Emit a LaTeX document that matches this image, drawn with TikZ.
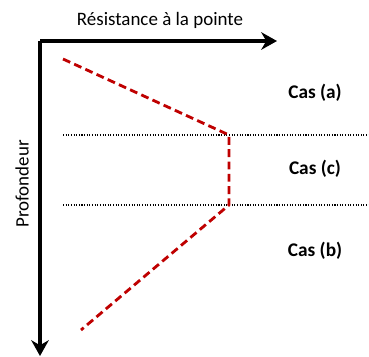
\documentclass[tikz,border=0pt]{standalone}
\usepackage{fontspec}
\setmainfont{Carlito}
\usetikzlibrary{arrows.meta}
\begin{document}
\begin{tikzpicture}[x=0.02cm, y=-0.02cm, >=stealth]

    \tikzset{
        axis/.style={->, line width=1.8pt, >={Stealth[length=9pt, width=10pt]}},
        profile/.style={red!75!black, line width=1.6pt, dashed, dash pattern=on 4.5pt off 2.5pt},
        limit/.style={dotted, line width=0.6pt, dash pattern=on 0.6pt off 0.9pt},
        axislabel/.style={font=\fontsize{10.8}{13}\selectfont},
        caselabel/.style={font=\fontsize{11}{13}\selectfont\bfseries}
    }

    \useasboundingbox (0,0) rectangle (369,356);

    % Axes
    \coordinate (origin) at (40,41);
    \coordinate (xend) at (277,41);
    \coordinate (yend) at (40,356);
    \draw[axis] (origin) -- (xend);
    \draw[axis] (origin) -- (yend);
    \node[axislabel] (xlabel) at (160,20) {Résistance à la pointe};
    \node[axislabel, rotate=90] (ylabel) at (22,184) {Profondeur};

    % Layer limits
    \coordinate (l1a) at (63,135);
    \coordinate (l1b) at (369,135);
    \coordinate (l2a) at (63,205);
    \coordinate (l2b) at (369,205);
    \draw[limit] (l1a) -- (l1b);
    \draw[limit] (l2a) -- (l2b);

    % Resistance profile
    \coordinate (p1) at (63,59);
    \coordinate (p2) at (229,135);
    \coordinate (p3) at (229,205);
    \coordinate (p4) at (81,330);
    \draw[profile, line join=round] (p1) -- (p2) -- (p3) -- (p4);

    % Cases
    \node[caselabel] (casa) at (315,93) {Cas (a)};
    \node[caselabel] (casc) at (315,169) {Cas (c)};
    \node[caselabel] (casb) at (315,251) {Cas (b)};

\end{tikzpicture}
\end{document}
